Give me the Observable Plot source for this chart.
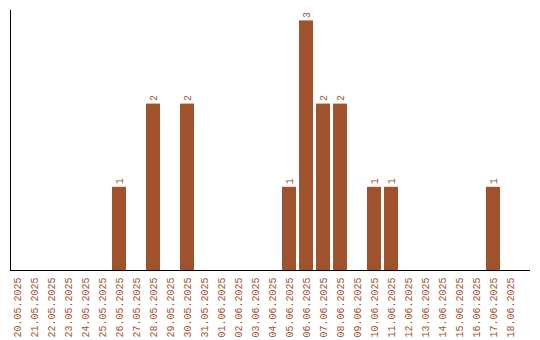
<!DOCTYPE html>
<html>
<head>
<meta charset="utf-8">
<script src="https://cdn.jsdelivr.net/npm/d3@7"></script>
<script src="https://cdn.jsdelivr.net/npm/@observablehq/plot@0.6"></script>
<style>
  html, body { margin: 0; padding: 0; background: #fff; }
</style>
</head>
<body>
<div id="chart"></div>
<script>
const dates = [
  "20.05.2025","21.05.2025","22.05.2025","23.05.2025","24.05.2025","25.05.2025",
  "26.05.2025","27.05.2025","28.05.2025","29.05.2025","30.05.2025","31.05.2025",
  "01.06.2025","02.06.2025","03.06.2025","04.06.2025","05.06.2025","06.06.2025",
  "07.06.2025","08.06.2025","09.06.2025","10.06.2025","11.06.2025","12.06.2025",
  "13.06.2025","14.06.2025","15.06.2025","16.06.2025","17.06.2025","18.06.2025"
];
const counts = [
  0,0,0,0,0,0,
  1,0,2,0,2,0,
  0,0,0,0,1,3,
  2,2,0,1,1,0,
  0,0,0,0,1,0
];
const barColor = "#a0522d";

const data = dates.map((d, i) => ({date: d, count: counts[i]}));

const chart = Plot.plot({
  width: 540,
  height: 340,
  marginLeft: 10,
  marginRight: 10,
  marginTop: 10,
  marginBottom: 70,
  style: {fontFamily: "Liberation Mono", fontSize: "10px", background: "#fff"},
  x: {type: "band", domain: dates, paddingInner: 0.18, paddingOuter: 0.38, align: 0, label: null},
  y: {domain: [0, 3.125], axis: null, label: null},
  marks: [
    Plot.barY(data, {x: "date", y: "count", fill: barColor}),
    Plot.text(data.filter(d => d.count > 0), {
      x: "date", y: "count", text: d => String(d.count),
      rotate: -90, textAnchor: "start", dy: -3, fill: barColor, fontSize: 10
    }),
    Plot.axisX({tickRotate: -90, tickSize: 0, tickPadding: 7, fill: barColor, label: null, fontSize: 10}),
    Plot.ruleY([0], {stroke: "#000"}),
    Plot.frame({anchor: "left", stroke: "#000"})
  ]
});
document.getElementById("chart").appendChild(chart);
</script>
</body>
</html>
